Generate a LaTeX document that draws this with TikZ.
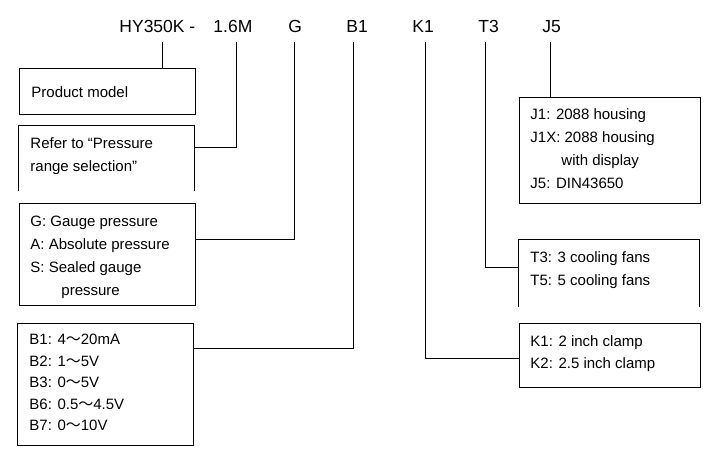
\documentclass[tikz,border=0pt]{standalone}
\usepackage{fontspec}
\setmainfont{Liberation Sans}
\newfontfamily\cjk{Noto Sans CJK SC}
\newcommand{\wave}{{\cjk ～}}

\begin{document}
\begin{tikzpicture}[x=1pt,y=-1pt,line width=0.9pt,
		hd/.style={anchor=base west,inner sep=0pt,font=\fontsize{17.5}{20}\selectfont},
		txt/.style={anchor=base west,inner sep=0pt,font=\fontsize{15}{18}\selectfont},
		box/.style={draw,anchor=north west,inner sep=0pt,minimum width=176pt},
		openbox/.style={box,draw=none}]
	\useasboundingbox (0,0) rectangle (711,459);
	% code header
	\node[hd] (hdModel) at (119,32.3) {HY350K -};
	\node[hd] (hdRange) at (213,32.3) {1.6M};
	\node[hd] (hdG) at (288,32.3) {G};
	\node[hd] (hdB) at (346,32.3) {B1};
	\node[hd] (hdK) at (412,32.3) {K1};
	\node[hd] (hdT) at (478,32.3) {T3};
	\node[hd] (hdJ) at (542,32.3) {J5};
	\coordinate (tModel) at (162,42);
	\coordinate (tRange) at (236,42);
	\coordinate (tG) at (294,42);
	\coordinate (tB) at (353,42);
	\coordinate (tK) at (425,42);
	\coordinate (tT) at (485,42);
	\coordinate (tJ) at (550,42);
	% boxes
	\node[box,minimum height=46pt] (bxModel) at (19,68) {};
	\node[openbox,minimum height=65pt] (bxRange) at (18,125) {};
	\draw (bxRange.south west)--(bxRange.north west)--(bxRange.north east)--(bxRange.south east);
	\node[box,minimum height=102pt] (bxG) at (19,203) {};
	\node[box,minimum height=122pt] (bxB) at (17,323) {};
	\node[box,minimum width=181pt,minimum height=106pt] (bxJ) at (519,97) {};
	\node[openbox,minimum width=181pt,minimum height=67pt] (bxT) at (518,239) {};
	\draw (bxT.south west)--(bxT.north west)--(bxT.north east)--(bxT.south east);
	\node[box,minimum width=181pt,minimum height=64pt] (bxK) at (519,323) {};
	% connectors
	\draw (tModel)--(tModel |- bxModel.north);
	\draw (tRange) |- ([yshift=-22pt]bxRange.north east);
	\draw (tG) |- ([yshift=-36pt]bxG.north east);
	\draw (tB) |- ([yshift=-25pt]bxB.north east);
	\draw (tK) |- ([yshift=-35pt]bxK.north west);
	\draw (tT) |- ([yshift=-28pt]bxT.north west);
	\draw (tJ)--(tJ |- bxJ.north);
	% texts
	\node[txt] (m1) at (31,97) {Product model};
	\node[txt] (r1) at (30,148.3) {Refer to “Pressure};
	\node[txt] (r2) at (30,171.5) {range selection”};
	\node[txt] (g1) at (30,226.5) {G: Gauge pressure};
	\node[txt] (g2) at (30,249.5) {A: Absolute pressure};
	\node[txt] (g3) at (30,272.5) {S: Sealed gauge};
	\node[txt] (g4) at (61,295.5) {pressure};
	\foreach \t [count=\i] in {B1: 4\wave20mA,B2: 1\wave5V,B3: 0\wave5V,B6: 0.5\wave4.5V,B7: 0\wave10V}
		\node[txt] (b\i) at (29,344.5+21.5*\i-21.5) {\t};
	\node[txt] (j1) at (530,119.5) {J1: 2088 housing};
	\node[txt] (j2) at (530,142.5) {J1X: 2088 housing};
	\node[txt] (j3) at (561,165.5) {with display};
	\node[txt] (j4) at (530,188.5) {J5: DIN43650};
	\node[txt] (f1) at (530,262.5) {T3: 3 cooling fans};
	\node[txt] (f2) at (530,285.5) {T5: 5 cooling fans};
	\node[txt] (k1) at (530,346.5) {K1: 2 inch clamp};
	\node[txt] (k2) at (530,368.5) {K2: 2.5 inch clamp};
\end{tikzpicture}
\end{document}
